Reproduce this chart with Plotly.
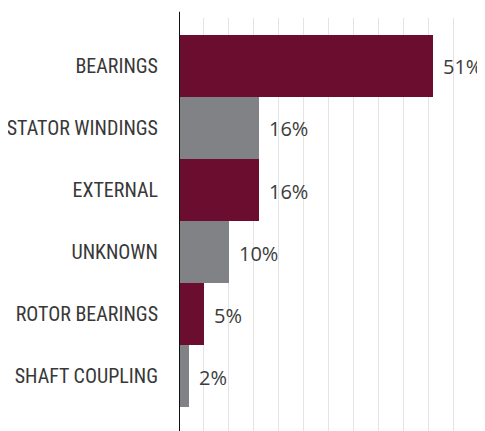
import plotly.graph_objects as go

categories = ["BEARINGS", "STATOR WINDINGS", "EXTERNAL", "UNKNOWN", "ROTOR BEARINGS", "SHAFT COUPLING"]
values = [51, 16, 16, 10, 5, 2]
labels = ["51%", "16%", "16%", "10%", "5%", "2%"]
colors = ["#6b0d2f", "#808285", "#6b0d2f", "#808285", "#6b0d2f", "#808285"]

fig = go.Figure()
fig.add_trace(go.Bar(
    x=values, y=categories, orientation="h",
    marker=dict(color=colors, line=dict(width=0)),
    hoverinfo="skip",
))

for c, v, t in zip(categories, values, labels):
    fig.add_annotation(x=v, y=c, text=t, xanchor="left", yanchor="middle",
                       xshift=8, yshift=-1, showarrow=False,
                       font=dict(family="Open Sans, Noto Sans, sans-serif", size=20, color="#3c3c3c"))

fig.add_shape(type="line", xref="x", yref="paper", x0=0, x1=0, y0=0, y1=1.015,
              line=dict(color="#111111", width=2), layer="above")

fig.update_layout(
    width=477, height=423,
    margin=dict(l=171, r=0, t=10, b=0, autoexpand=False),
    paper_bgcolor="white", plot_bgcolor="white",
    bargap=0, showlegend=False,
    xaxis=dict(range=[0, 61.4], dtick=5, showticklabels=False, showgrid=True,
               gridcolor="#e4e4e4", gridwidth=1, zeroline=False, showline=False, fixedrange=True),
    yaxis=dict(categoryorder="array", categoryarray=categories, automargin=False,
               range=[5.887, -0.774], showgrid=False, zeroline=False, showline=False,
               ticks="", ticklabelstandoff=20,
               tickfont=dict(family="Roboto Condensed, sans-serif", size=20, color="#383838")),
)

fig.write_html("out.html")
